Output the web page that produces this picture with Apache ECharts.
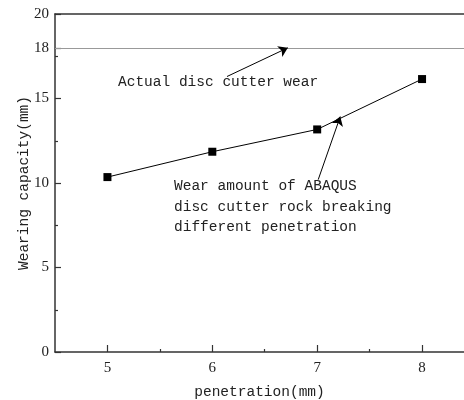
<!DOCTYPE html>
<html>
<head>
<meta charset="utf-8">
<script src="https://cdn.jsdelivr.net/npm/echarts@6/dist/echarts.min.js"></script>
<style>
  html, body { margin: 0; padding: 0; background: #fff; }
  #main { width: 464px; height: 400px; }
</style>
</head>
<body>
<div id="main"></div>
<script>
// penetration (mm) vs wear (mm)
var penetration = [5, 6, 7, 8];
var wearAmount = [10.35, 11.85, 13.17, 16.15];
var actualWear = 18;
var xTicks = [5, 6, 7, 8];
var xMinorTicks = [5.5, 6.5, 7.5];
var yTicks = [0, 5, 10, 15, 18, 20];
var yMinorTicks = [2.5, 7.5, 12.5, 17.5];
// arrows: [from, to] in data coords
var arrowActual = [[6.14, 16.3], [6.72, 18.0]];
var arrowAbaqus = [[7.01, 10.2], [7.22, 13.93]];
var noteActual = 'Actual disc cutter wear';
var noteAbaqus = 'Wear amount of ABAQUS\ndisc cutter rock breaking\ndifferent penetration';

var FONT = '"Liberation Mono", "DejaVu Sans Mono", monospace';
var NUMFONT = '"Liberation Serif", "DejaVu Serif", serif';
var INK = '#222';
var AXIS = '#333';

var myChart = echarts.init(document.getElementById('main'));

var pts = [];
for (var i = 0; i < penetration.length; i++) {
    pts.push([penetration[i], wearAmount[i]]);
}

var option = {
    animation: false,
    backgroundColor: '#fff',
    grid: { left: 55, right: 0, top: 14, bottom: 48, outerBoundsMode: 'none' },
    xAxis: [{
        type: 'value', min: 4.5, max: 8.4, position: 'bottom',
        name: 'penetration(mm)', nameLocation: 'middle', nameGap: 33, nameMoveOverlap: false,
        nameTextStyle: { fontFamily: FONT, fontSize: 14.5, color: INK },
        axisLine: { show: true, onZero: false, lineStyle: { color: AXIS, width: 1.5 } },
        axisTick: { show: true, inside: true, length: 7, customValues: xTicks, lineStyle: { color: AXIS, width: 1.2 } },
        axisLabel: { customValues: xTicks, margin: 9, fontFamily: NUMFONT, fontSize: 15, color: INK },
        splitLine: { show: false }
    }, {
        type: 'value', min: 4.5, max: 8.4, position: 'bottom',
        axisLine: { show: false, onZero: false },
        axisTick: { show: true, inside: true, length: 3, customValues: xMinorTicks, lineStyle: { color: AXIS, width: 1.2 } },
        axisLabel: { show: false },
        splitLine: { show: false }
    }, {
        type: 'value', min: 4.5, max: 8.4, position: 'top',
        axisLine: { show: true, onZero: false, lineStyle: { color: AXIS, width: 1.5 } },
        axisTick: { show: false },
        axisLabel: { show: false },
        splitLine: { show: false }
    }],
    yAxis: [{
        type: 'value', min: 0, max: 20, position: 'left',
        name: 'Wearing capacity(mm)', nameLocation: 'middle', nameGap: 23, nameMoveOverlap: false,
        nameTextStyle: { fontFamily: FONT, fontSize: 14.5, color: INK },
        axisLine: { show: true, onZero: false, lineStyle: { color: AXIS, width: 1.5 } },
        axisTick: { show: true, inside: true, length: 6, customValues: yTicks, lineStyle: { color: AXIS, width: 1.2 } },
        axisLabel: { customValues: yTicks, margin: 6, fontFamily: NUMFONT, fontSize: 15, color: INK },
        splitLine: { show: false }
    }, {
        type: 'value', min: 0, max: 20, position: 'left',
        axisLine: { show: false, onZero: false },
        axisTick: { show: true, inside: true, length: 3, customValues: yMinorTicks, lineStyle: { color: AXIS, width: 1.2 } },
        axisLabel: { show: false },
        splitLine: { show: false }
    }],
    series: [{
        type: 'line',
        data: pts,
        symbol: 'rect',
        symbolSize: 8,
        itemStyle: { color: '#000' },
        lineStyle: { color: '#000', width: 1 },
        markLine: {
            silent: true,
            symbol: 'none',
            label: { show: false },
            lineStyle: { color: '#999', width: 1, type: 'solid' },
            data: [{ yAxis: actualWear }]
        }
    }, {
        type: 'line',
        data: [],
        markLine: {
            silent: true,
            symbol: ['none', 'arrow'],
            symbolSize: 9,
            label: { show: false },
            itemStyle: { color: '#000' },
            lineStyle: { color: '#000', width: 1, type: 'solid' },
            data: [
                [{ coord: arrowActual[0] }, { coord: arrowActual[1] }],
                [{ coord: arrowAbaqus[0] }, { coord: arrowAbaqus[1] }]
            ]
        }
    }],
    graphic: [{
        type: 'text', left: 118, top: 75,
        style: { text: noteActual, fontFamily: FONT, fontSize: 14.5, fill: INK }
    }, {
        type: 'text', left: 174, top: 176,
        style: { text: noteAbaqus, fontFamily: FONT, fontSize: 14.5, lineHeight: 20.5, fill: INK }
    }]
};

myChart.setOption(option);
</script>
</body>
</html>
